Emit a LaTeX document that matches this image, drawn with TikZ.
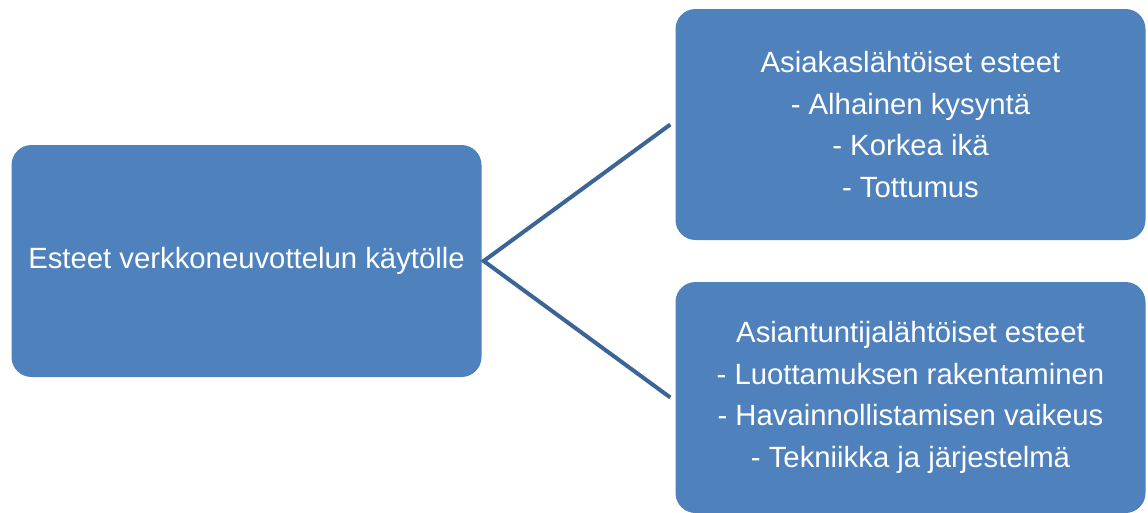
\documentclass[tikz,border=0pt]{standalone}
\usepackage{fontspec}
\setmainfont{Liberation Sans}
\definecolor{boxblue}{HTML}{4F81BD}
\definecolor{linkblue}{HTML}{3C6496}
\begin{document}
\begin{tikzpicture}[x=1pt,y=-1pt,
  card/.style={rectangle, rounded corners=20pt, fill=boxblue, draw=none,
    minimum width=470pt, minimum height=231pt, inner sep=0pt,
    text=white, align=center, font=\fontsize{29.3}{41.5}\selectfont},
  link/.style={draw=linkblue, line width=4pt}]
\useasboundingbox (0,0) rectangle (1148,512);
\node[card, minimum height=232pt] (L) at (246.5,261) {Esteet verkkoneuvottelun käytölle};
\node[card] (T) at (910.5,124.5) {Asiakaslähtöiset esteet\\- Alhainen kysyntä\\- Korkea ikä\\- Tottumus};
\node[card] (B) at (910.5,397.5) {Asiantuntijalähtöiset esteet\\- Luottamuksen rakentaminen\\- Havainnollistamisen vaikeus\\- Tekniikka ja järjestelmä};
\draw[link] ([xshift=-5pt]T.west) -- ([xshift=2pt]L.east) -- ([xshift=-5pt]B.west);
\end{tikzpicture}
\end{document}
